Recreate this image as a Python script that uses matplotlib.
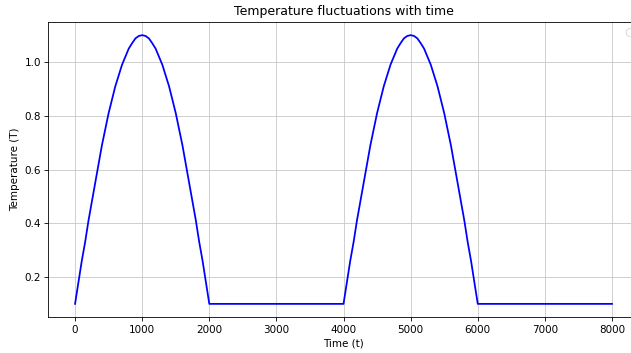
import matplotlib
matplotlib.use('Agg')
import matplotlib.pyplot as plt

hump = [0.10, 0.18, 0.26, 0.33, 0.41, 0.48, 0.55, 0.62, 0.69, 0.75,
        0.81, 0.86, 0.91, 0.95, 0.99, 1.02, 1.05, 1.07, 1.088, 1.097,
        1.10,
        1.097, 1.088, 1.07, 1.05, 1.02, 0.99, 0.95, 0.91, 0.86, 0.81,
        0.75, 0.69, 0.62, 0.55, 0.48, 0.41, 0.33, 0.26, 0.18, 0.10]
hump_t = list(range(0, 2001, 50))

t_first = hump_t + [4000]
T_first = hump + [0.10]
t_second = [x + 4000 for x in hump_t] + [8000]
T_second = hump + [0.10]

time = t_first + t_second
temp = T_first + T_second

# drawn at 75 dpi so everything scales down like the reference
fig = plt.figure(figsize=(632 / 75, 353 / 75), dpi=75)
ax = fig.add_axes([0.0763, 0.1011, 0.9345, 0.8374])
ax.plot(time, temp, color='blue', lw=1.7)
ax.set_title('Temperature fluctuations with time')
ax.set_xlabel('Time (t)')
ax.set_ylabel('Temperature (T)')
ax.grid(True, color='#c8c8c8')
ax.set_yticks([0.2, 0.4, 0.6, 0.8, 1.0])

# faint legend remnant at the cropped right edge
fig.text(0.987, 0.905, 'C', color='#dddddd', fontsize=12, va='center')

fig.savefig('out.png', dpi=75)
